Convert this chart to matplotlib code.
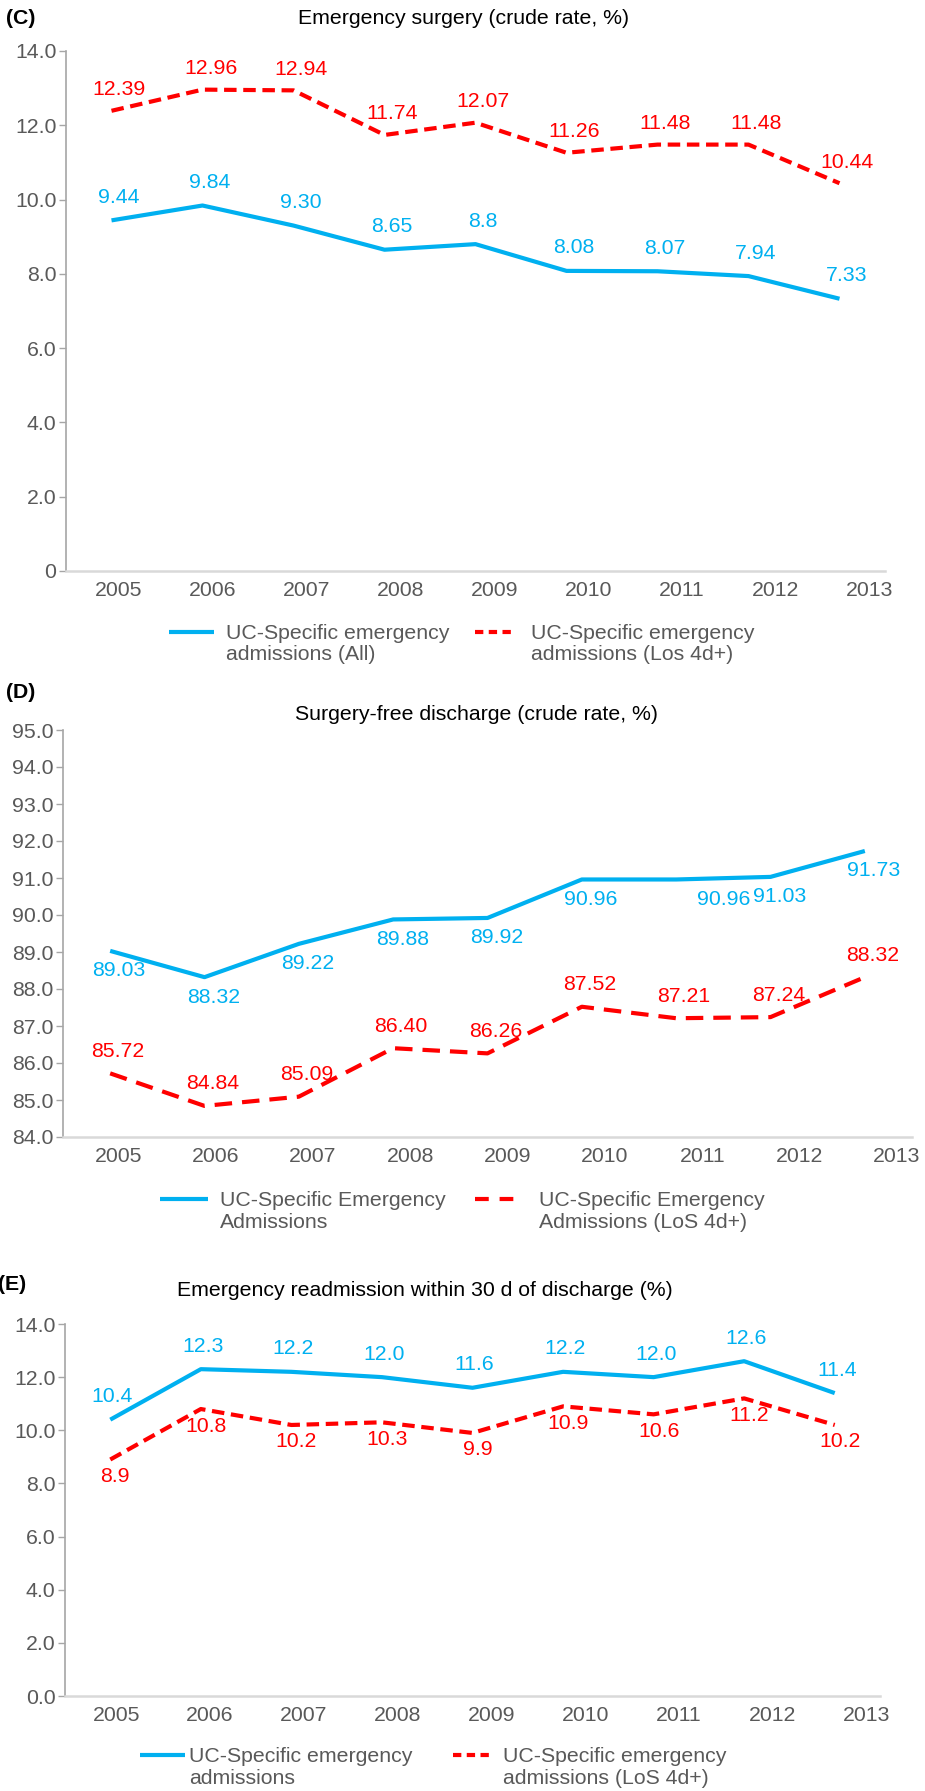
import matplotlib.pyplot as plt
from matplotlib.lines import Line2D

plt.rcParams['font.family'] = ['Liberation Sans', 'DejaVu Sans']

# data
years = ['2005', '2006', '2007', '2008', '2009', '2010', '2011', '2012', '2013']

surg_all = [9.44, 9.84, 9.30, 8.65, 8.8, 8.08, 8.07, 7.94, 7.33]
surg_all_lbl = ['9.44', '9.84', '9.30', '8.65', '8.8', '8.08', '8.07', '7.94', '7.33']
surg_los = [12.39, 12.96, 12.94, 11.74, 12.07, 11.26, 11.48, 11.48, 10.44]
surg_los_lbl = ['12.39', '12.96', '12.94', '11.74', '12.07', '11.26', '11.48', '11.48', '10.44']

free_all = [89.03, 88.32, 89.22, 89.88, 89.92, 90.96, 90.96, 91.03, 91.73]
free_all_lbl = ['89.03', '88.32', '89.22', '89.88', '89.92', '90.96', '90.96', '91.03', '91.73']
free_los = [85.72, 84.84, 85.09, 86.40, 86.26, 87.52, 87.21, 87.24, 88.32]
free_los_lbl = ['85.72', '84.84', '85.09', '86.40', '86.26', '87.52', '87.21', '87.24', '88.32']

readm_all = [10.4, 12.3, 12.2, 12.0, 11.6, 12.2, 12.0, 12.6, 11.4]
readm_all_lbl = ['10.4', '12.3', '12.2', '12.0', '11.6', '12.2', '12.0', '12.6', '11.4']
readm_los = [8.9, 10.8, 10.2, 10.3, 9.9, 10.9, 10.6, 11.2, 10.2]
readm_los_lbl = ['8.9', '10.8', '10.2', '10.3', '9.9', '10.9', '10.6', '11.2', '10.2']

yt_c = [0, 2, 4, 6, 8, 10, 12, 14]
yt_c_lbl = ['0', '2.0', '4.0', '6.0', '8.0', '10.0', '12.0', '14.0']
yt_d = [84, 85, 86, 87, 88, 89, 90, 91, 92, 93, 94, 95]
yt_d_lbl = ['84.0', '85.0', '86.0', '87.0', '88.0', '89.0', '90.0', '91.0', '92.0', '93.0', '94.0', '95.0']
yt_e = [0, 2, 4, 6, 8, 10, 12, 14]
yt_e_lbl = ['0.0', '2.0', '4.0', '6.0', '8.0', '10.0', '12.0', '14.0']

W, H = 925, 1791
BLUE = '#00b0f0'
RED = '#ff0000'
GREY = '#595959'
FS = 15.3
LW = 3.0

fig = plt.figure(figsize=(W / 100, H / 100), dpi=100)


def fx(px):
    return px / W


def fy(py):
    return 1 - py / H


def panel(box, ylim, yt, ytl, tick0, tstep, s1, l1, s2, l2, off1, off2, dash,
          extra_dx=None):
    x0, y0, x1, y1 = box
    ax = fig.add_axes([fx(x0), fy(y1), fx(x1 - x0), (y1 - y0) / H])
    x = list(range(len(years)))
    ax.plot(x, s1, color=BLUE, lw=LW, solid_capstyle='butt', clip_on=False)
    ax.plot(x, s2, color=RED, lw=LW, dashes=dash, clip_on=False)
    for i in x:
        dx = off1[0] + (extra_dx or {}).get(i, 0)
        ax.annotate(l1[i], (i, s1[i]), xytext=(dx, off1[1]), textcoords='offset pixels',
                    ha='center', va='center', color=BLUE, fontsize=FS)
        ax.annotate(l2[i], (i, s2[i]), xytext=off2, textcoords='offset pixels',
                    ha='center', va='center', color=RED, fontsize=FS)
    ax.set_xlim(-0.5, 8.5)
    ax.set_ylim(*ylim)
    ax.set_xticks([tick0 + tstep * i for i in x])
    ax.set_xticklabels(years)
    ax.set_yticks(yt)
    ax.set_yticklabels(ytl)
    ax.tick_params(axis='x', length=0, pad=7.5, labelsize=FS, labelcolor=GREY)
    ax.tick_params(axis='y', length=5, width=1, color='#a6a6a6', pad=2,
                   labelsize=FS, labelcolor=GREY)
    for s in ['top', 'right']:
        ax.spines[s].set_visible(False)
    ax.spines['left'].set_color('#a6a6a6')
    ax.spines['left'].set_linewidth(1.2)
    ax.spines['bottom'].set_color('#d9d9d9')
    ax.spines['bottom'].set_linewidth(1.8)
    return ax


def legend(rows, h1, t1, h2, t2, txt1, txt2, dash):
    ym = (rows[0] + rows[1]) / 2
    fig.add_artist(Line2D([fx(h1[0]), fx(h1[1])], [fy(rows[0]), fy(rows[0])],
                          color=BLUE, lw=LW, solid_capstyle='butt'))
    fig.add_artist(Line2D([fx(h2[0]), fx(h2[1])], [fy(rows[0]), fy(rows[0])],
                          color=RED, lw=LW, dashes=dash))
    fig.text(fx(t1), fy(ym), txt1, ha='left', va='center', fontsize=FS,
             color=GREY, linespacing=1.15)
    fig.text(fx(t2), fy(ym), txt2, ha='left', va='center', fontsize=FS,
             color=GREY, linespacing=1.15)


# (C) emergency surgery
panel((66, 51, 885, 571), (0, 14), yt_c, yt_c_lbl, 0.077, 1.032,
      surg_all, surg_all_lbl, surg_los, surg_los_lbl, (7, 23), (8, 21), (3, 1.6))
fig.text(fx(6), fy(19), '(C)', fontsize=FS, fontweight='bold', va='center')
fig.text(fx(464), fy(19), 'Emergency surgery (crude rate, %)', fontsize=FS,
         ha='center', va='center')
legend((632, 656), (169, 214), 226, (475, 516), 531,
       'UC-Specific emergency\nadmissions (All)',
       'UC-Specific emergency\nadmissions (Los 4d+)', (2.0, 1.3))

# (D) surgery-free discharge
panel((63, 730, 912, 1137), (84, 95), yt_d, yt_d_lbl, 0.085, 1.032,
      free_all, free_all_lbl, free_los, free_los_lbl, (9, -20), (8, 22), (4.2, 2.4),
      extra_dx={6: 39})
fig.text(fx(6), fy(693), '(D)', fontsize=FS, fontweight='bold', va='center')
fig.text(fx(477), fy(714), 'Surgery-free discharge (crude rate, %)', fontsize=FS,
         ha='center', va='center')
legend((1199, 1224), (160, 208), 220, (475, 517), 539,
       'UC-Specific Emergency\nAdmissions',
       'UC-Specific Emergency\nAdmissions (LoS 4d+)', (3.3, 2.6))

# (E) readmission
panel((65, 1324, 880, 1696), (0, 14), yt_e, yt_e_lbl, 0.066, 1.036,
      readm_all, readm_all_lbl, readm_los, readm_los_lbl, (2, 23), (5, -17), (3, 1.6))
fig.text(fx(-2), fy(1284), '(E)', fontsize=FS, fontweight='bold', va='center')
fig.text(fx(425), fy(1291), 'Emergency readmission within 30 d of discharge (%)',
         fontsize=FS, ha='center', va='center')
legend((1755, 1780), (140, 185), 189, (453, 494), 503,
       'UC-Specific emergency\nadmissions',
       'UC-Specific emergency\nadmissions (LoS 4d+)', (2.0, 1.3))

fig.savefig('out.png', dpi=100)
